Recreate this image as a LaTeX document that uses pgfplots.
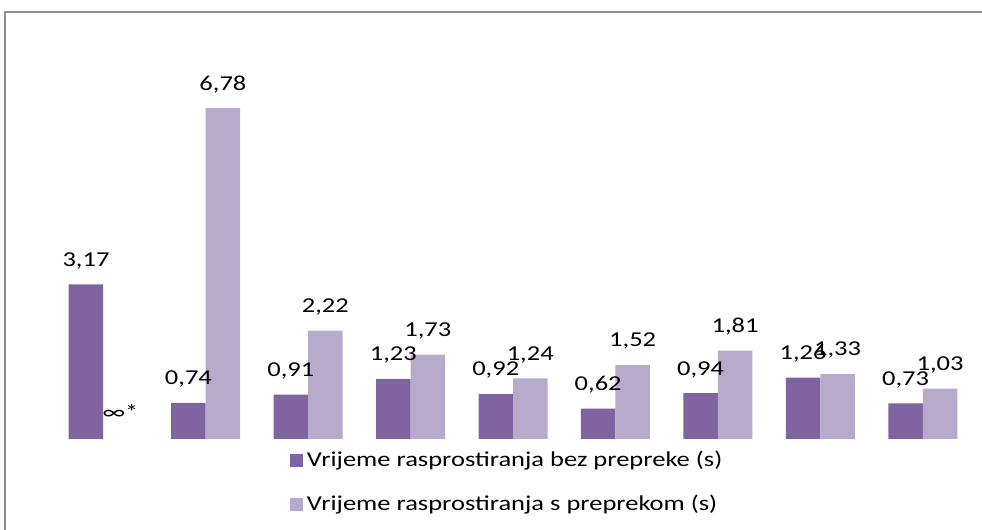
\documentclass[border=0pt]{standalone}
\usepackage{pgfplots}
\pgfplotsset{compat=1.18}
\usepackage{pgfplotstable}
\usepackage{fontspec}
\setmainfont[FakeStretch=1.25]{Carlito}
\definecolor{darkp}{HTML}{8064A2}
\definecolor{lightp}{HTML}{B7AACB}
\definecolor{framegray}{HTML}{8C8C8C}
\pgfplotstableread{
x dark dlab
0 3.17 3,17
1 0.74 0,74
2 0.91 0,91
3 1.23 1,23
4 0.92 0,92
5 0.62 0,62
6 0.94 0,94
7 1.26 1,26
8 0.73 0,73
}\darktab
\pgfplotstableread{
x light llab
1 6.78 6,78
2 2.22 2,22
3 1.73 1,73
4 1.24 1,24
5 1.52 1,52
6 1.81 1,81
7 1.33 1,33
8 1.03 1,03
}\lighttab
\begin{document}
\begin{tikzpicture}
\useasboundingbox (0pt,0pt) rectangle (491pt,265pt);
\draw[framegray, line width=0.8pt] (2.6pt,-5pt) -- (2.6pt,258.9pt) -- (500pt,258.9pt);
\begin{axis}[
  at={(26pt,45.5pt)}, anchor=south west,
  width=461pt, height=195.2pt, scale only axis,
  hide axis,
  xmin=-0.5, xmax=8.5, ymin=0, ymax=8,
  ybar=0pt, bar width=17.25pt,
  clip=false,
  point meta=explicit symbolic,
  nodes near coords,
  nodes near coords style={font=\fontsize{10.6}{12.5}\selectfont, anchor=south, inner sep=0pt, yshift=7.5pt, text=black},
  legend style={at={(0.4946,-0.02)}, anchor=north, draw=none, fill=none,
    font=\fontsize{10.6}{12.5}\selectfont, row sep=8.6pt, inner sep=0pt,
    /tikz/every even column/.append style={column sep=0pt}},
  legend cell align=left,
  legend image code/.code={\fill[#1] (0pt,-3.3pt) rectangle (6.6pt,3.3pt);},
]
\addplot[fill=darkp, draw=none] table[x=x, y=dark, meta=dlab] {\darktab};
\addplot[fill=lightp, draw=none] table[x=x, y=light, meta=llab] {\lighttab};
\addplot[draw=none, fill=none, forget plot, bar shift=0pt] coordinates {(0.168,0.09) [∞*]};
\legend{Vrijeme rasprostiranja bez prepreke (s), Vrijeme rasprostiranja s preprekom (s)}
\end{axis}
\end{tikzpicture}
\end{document}
